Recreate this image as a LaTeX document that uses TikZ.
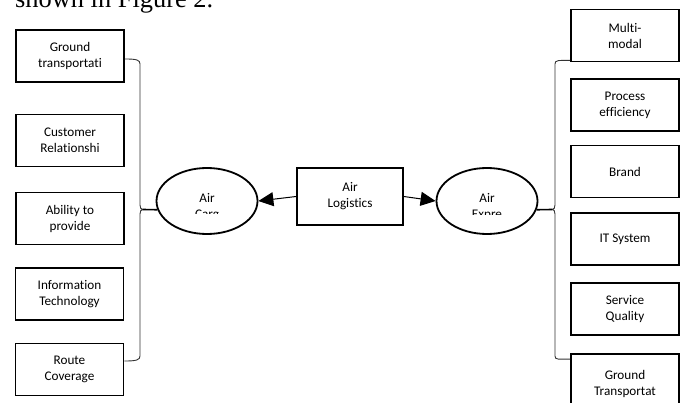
\documentclass[tikz,border=0pt]{standalone}
\usepackage{fontspec}
\setmainfont{Carlito}[Ligatures={NoCommon,NoRequired}]
\newfontfamily\serifhead{Liberation Serif}
\usetikzlibrary{arrows.meta,shapes.geometric}
\begin{document}
\begin{tikzpicture}[x=1pt,y=-1pt,
  box/.style={draw,line width=1.8pt,inner sep=0pt,minimum width=108pt,minimum height=52pt,
              font=\fontsize{13.2}{16}\selectfont,align=center},
  oval/.style={draw,ellipse,line width=1.8pt,minimum width=101pt,minimum height=66pt,inner sep=0pt},
  otext/.style={inner sep=0pt,anchor=north,font=\fontsize{13.2}{16}\selectfont,align=center},
  brace/.style={draw=black!80,line width=0.9pt},
  tip/.style={draw,line width=1.6pt},
  arr/.style={draw,line width=1pt,-{Triangle[length=15pt,width=14pt]}}]
\useasboundingbox (0,0) rectangle (685,403);
\clip (0,0) rectangle (685,403);

% caption fragment at top
\node[anchor=base west,inner sep=0pt,font=\serifhead\fontsize{26.4}{30}\selectfont] (caption) at (15,7.5) {shown in Figure 2.};

% left boxes
\node[box] (L1) at (70,56) {Ground\\transportati};
\node[box] (L2) at (70,140.5) {Customer\\Relationshi};
\node[box] (L3) at (70,218.5) {Ability to\\provide};
\node[box] (L4) at (69.5,294) {Information\\Technology};
\node[box] (L5) at (69.5,369.5) {Route\\Coverage};

% right boxes
\node[box] (R1) at (625,35.5) {Multi-\\modal};
\node[box] (R2) at (625,105) {Process\\efficiency};
\node[box] (R3) at (625,171.5) {Brand};
\node[box] (R4) at (625,239) {IT System};
\node[box] (R5) at (625,309) {Service\\Quality};
\node[box,minimum height=60pt] (R6) at (625,384) {Ground\\Transportat};

% center
\node[box,minimum width=106pt,minimum height=57pt] (logistics) at (350,196.5) {Air\\Logistics};
\node[oval] (cargo) at (207,201) {};
\node[oval] (express) at (487,201) {};
\begin{scope}
  \clip (150,150) rectangle (265,214);
  \node[otext] (cargotext) at (207,193.5) {Air\\Carg};
\end{scope}
\begin{scope}
  \clip (430,150) rectangle (545,215);
  \node[otext] (expresstext) at (487,193.5) {Air\\Expre};
\end{scope}

\draw[arr] (logistics.west) -- (cargo.east);
\draw[arr] (logistics.east) -- (express.west);

% left brace
\coordinate (lt) at (143,209.5);
\draw[brace] ([yshift=-3pt]L1.east) .. controls +(12,0) and +(0,-4) .. (140,64)
  -- (140,205) .. controls (140,208) and (141,209.5) .. (lt)
  .. controls (141,209.5) and (140,211) .. (140,214)
  -- (140,356) .. controls +(0,4) and +(12,0) .. ([yshift=8.5pt]L5.east);
\draw[tip] (lt) -- (cargo.190);

% right brace
\coordinate (rt) at (552,209.5);
\draw[brace] ([yshift=2pt]R1.south west) .. controls +(-12,0) and +(0,-4) .. (555,64)
  -- (555,205) .. controls (555,208) and (554,209.5) .. (rt)
  .. controls (554,209.5) and (555,211) .. (555,214)
  -- (555,356) .. controls +(0,4) and +(-12,0) .. ([yshift=-6pt]R6.north west);
\draw[tip] (rt) -- (express.350);
\end{tikzpicture}
\end{document}
